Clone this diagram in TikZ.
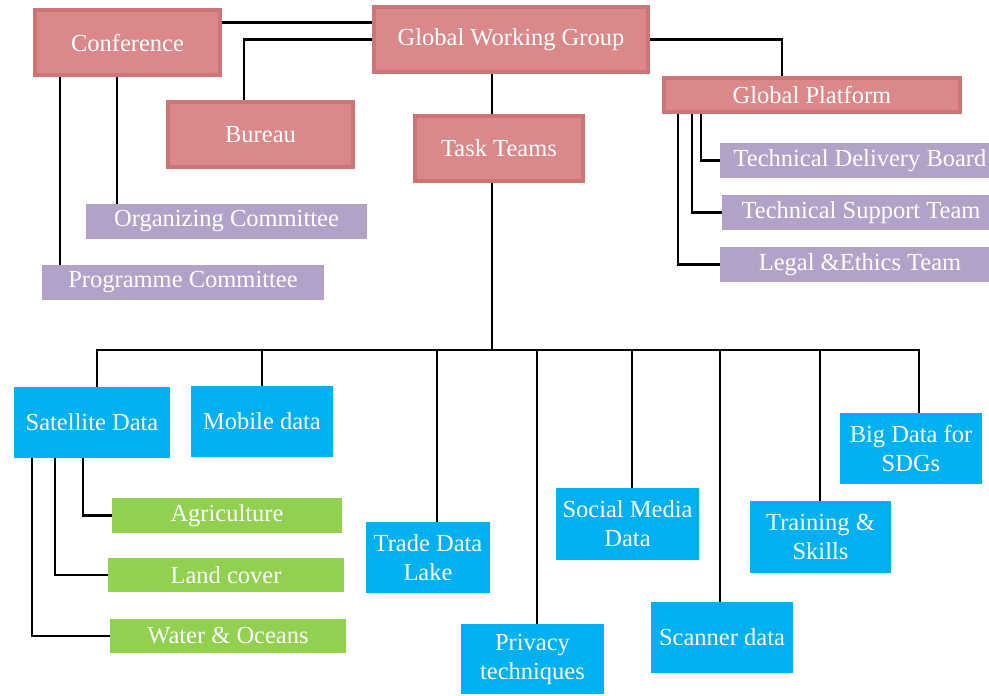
\documentclass[tikz,border=0pt]{standalone}
\usepackage{fontspec}
\setmainfont{Liberation Serif}
\usetikzlibrary{shadows}
\definecolor{rosebox}{RGB}{218,136,137}
\definecolor{roseedge}{RGB}{204,116,118}
\definecolor{lilacbox}{RGB}{179,162,199}
\definecolor{skybox}{RGB}{0,176,240}
\definecolor{leafbox}{RGB}{146,208,80}
\begin{document}
\begin{tikzpicture}[x=1pt, y=-1pt,
    unit/.style={inner sep=0pt, align=center, text=white, font=\fontsize{24.5}{29}\selectfont},
    size/.style 2 args={minimum width=#1pt, minimum height=#2pt},
    rose/.style={unit, fill=rosebox, draw=roseedge, line width=4pt,
        drop shadow={opacity=0.2, shadow xshift=2pt, shadow yshift=-2pt}},
    lilac/.style={unit, fill=lilacbox},
    sky/.style={unit, fill=skybox},
    leaf/.style={unit, fill=leafbox},
    wire/.style={draw, line width=2.8pt}]
    \useasboundingbox (0,0) rectangle (989,696);

    \node [rose, size={185}{65}] (conf) at (127.5,42.5) {Conference};
    \node [rose, size={274}{65}] (gwg) at (511,39.5) {Global Working Group};
    \node [rose, size={185}{65}] (bureau) at (260.5,134.5) {Bureau};
    \node [rose, size={168}{65}] (task) at (499,148.5) {Task Teams};
    \node [rose, size={296}{34}] (gplat) at (812,95) {Global Platform};

    \node [lilac, size={281}{35}] (orgc) at (226.5,221.5) {Organizing Committee};
    \node [lilac, size={282}{35}] (progc) at (183,282.5) {Programme Committee};
    \node [lilac, size={280}{35}] (tdb) at (860,160.5) {Technical Delivery Board};
    \node [lilac, size={278}{35}] (tst) at (861,212.5) {Technical Support Team};
    \node [lilac, size={280}{35}] (leth) at (860,264.5) {Legal \&Ethics Team};

    \node [sky, size={156}{71}] (sat) at (92,422.5) {Satellite Data};
    \node [sky, size={142}{71}] (mob) at (262,421.5) {Mobile data};
    \node [sky, size={124}{71}] (trade) at (428,557.5) {Trade Data\\Lake};
    \node [sky, size={143}{70}] (priv) at (532.5,659) {Privacy\\techniques};
    \node [sky, size={143}{72}] (social) at (627.5,524) {Social Media\\Data};
    \node [sky, size={142}{71}] (scan) at (722,637.5) {Scanner data};
    \node [sky, size={141}{72}] (train) at (820.5,537) {Training \&\\Skills};
    \node [sky, size={142}{71}] (bigd) at (911,448.5) {Big Data for\\SDGs};

    \node [leaf, size={230}{35}] (agri) at (227,515.5) {Agriculture};
    \node [leaf, size={236}{34}] (land) at (226,575) {Land cover};
    \node [leaf, size={236}{34}] (water) at (228,636) {Water \& Oceans};

    \coordinate (c0) at ([yshift=20pt]conf.east);
    \coordinate (c1) at ([xshift=-10.5pt]conf.south);
    \coordinate (c2) at ([xshift=-67.5pt]conf.south);
    \coordinate (hub) at (492,350);

    \draw [wire] (c0) -- (c0 -| gwg.west);
    \draw [wire] (gwg.west) -| ([xshift=-16.5pt]bureau.north);
    \draw [wire] (c1) -- (c1 |- orgc.north);
    \draw [wire] (c2) -- (c2 |- progc.north);
    \draw [wire] (gwg.east) -| ([xshift=-30pt]gplat.north);
    \draw [wire] (gwg.south -| hub) -- (task.north -| hub);
    \draw [wire] (task.south -| hub) -- (hub);

    \draw [wire] ([xshift=-111pt]gplat.south) |- (tdb.west);
    \draw [wire] ([xshift=-120pt]gplat.south) |- (tst.west);
    \draw [wire] ([xshift=-134pt]gplat.south) |- (leth.west);

    \foreach \n/\dx in {sat/5, mob/0, trade/9, priv/4.5, social/4.5, scan/-2, train/-0.5, bigd/8}
        \draw [wire] (hub) -| ([xshift=\dx pt]\n.north);

    \draw [wire] ([xshift=-9pt]sat.south) |- (agri.west);
    \draw [wire] ([xshift=-37pt]sat.south) |- (land.west);
    \draw [wire] ([xshift=-60pt]sat.south) |- (water.west);
\end{tikzpicture}
\end{document}
